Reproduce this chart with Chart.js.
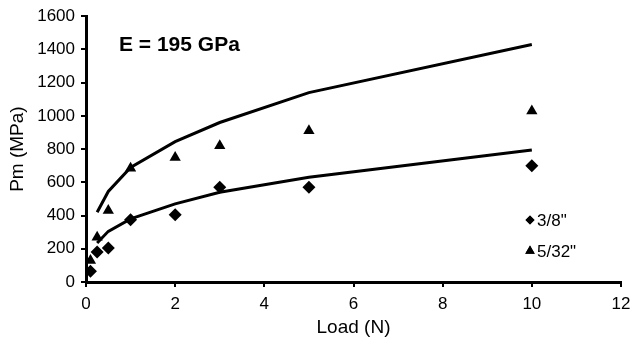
<!DOCTYPE html>
<html>
<head>
<meta charset="utf-8">
<script src="https://cdn.jsdelivr.net/npm/chart.js@4/dist/chart.umd.min.js"></script>
<style>
  html, body { margin: 0; padding: 0; background: #fff; }
  #wrap { width: 632px; height: 343px; }
</style>
</head>
<body>
<div id="wrap"><canvas id="grafico" width="632" height="343"></canvas></div>
<script>
// datos medidos (Load en N, Pm en MPa)
const cargaPuntos = [0.1, 0.25, 0.5, 1, 2, 3, 5, 10];
const pm38 = [65, 180, 205, 375, 405, 570, 570, 700];      // 3/8"
const pm532 = [130, 270, 430, 685, 750, 820, 910, 1030];   // 5/32"

// curvas del modelo
const cargaCurva = [0.25, 0.5, 1, 2, 3, 5, 10];
const curva38 = [235, 305, 380, 470, 540, 630, 795];
const curva532 = [420, 545, 690, 845, 960, 1140, 1430];

const etiquetas = ['3/8"', '5/32"'];
const anotacion = 'E = 195 GPa';

const fuente = '"Liberation Sans", Arial, sans-serif';

const toXY = (xs, ys) => xs.map((x, i) => ({ x: x, y: ys[i] }));

// leyenda y texto fijo dibujados a mano
const extras = {
    id: 'extras',
    afterDraw(chart) {
        const ctx = chart.ctx;
        ctx.save();
        ctx.fillStyle = '#000';
        ctx.font = 'bold 21px ' + fuente;
        ctx.textBaseline = 'alphabetic';
        ctx.fillText(anotacion, 119, 51);

        ctx.font = '17px ' + fuente;
        ctx.textBaseline = 'middle';
        const filas = [
            { estilo: 'rectRot', r: 4.5, y: 220 },
            { estilo: 'triangle', r: 5.5, y: 251 }
        ];
        filas.forEach((f, i) => {
            Chart.helpers.drawPoint(ctx, { pointStyle: f.estilo, radius: f.r, borderWidth: 0 }, 530, f.y);
            ctx.fill();
            ctx.fillText(etiquetas[i], 537, f.y + 1);
        });
        ctx.restore();
    }
};

const ctx = document.getElementById('grafico').getContext('2d');
new Chart(ctx, {
    type: 'scatter',
    data: {
        datasets: [
            {
                label: etiquetas[0],
                data: toXY(cargaPuntos, pm38),
                pointStyle: 'rectRot',
                pointRadius: 6.5,
                backgroundColor: '#000',
                borderColor: '#000',
                borderWidth: 0
            },
            {
                label: etiquetas[1],
                data: toXY(cargaPuntos, pm532),
                pointStyle: 'triangle',
                pointRadius: 6.5,
                backgroundColor: '#000',
                borderColor: '#000',
                borderWidth: 0
            },
            {
                label: 'modelo 3/8',
                type: 'line',
                data: toXY(cargaCurva, curva38),
                borderColor: '#000',
                borderWidth: 3,
                pointRadius: 0,
                tension: 0,
                fill: false
            },
            {
                label: 'modelo 5/32',
                type: 'line',
                data: toXY(cargaCurva, curva532),
                borderColor: '#000',
                borderWidth: 3,
                pointRadius: 0,
                tension: 0,
                fill: false
            }
        ]
    },
    options: {
        responsive: false,
        animation: false,
        layout: { padding: { left: 0, top: 15, right: 11, bottom: 0 } },
        plugins: {
            legend: { display: false },
            tooltip: { enabled: false }
        },
        scales: {
            x: {
                type: 'linear',
                min: 0,
                max: 12,
                ticks: { stepSize: 2, color: '#000', font: { family: fuente, size: 17 }, padding: 7, callback: v => String(v) },
                grid: { drawOnChartArea: false, drawTicks: true, tickLength: 5, color: '#000', lineWidth: 2 },
                border: { display: true, color: '#000', width: 3 },
                title: { display: true, text: 'Load (N)', color: '#000', font: { family: fuente, size: 19 }, padding: { top: 6 } },
                afterFit(scale) {
                    scale.height = 61;
                    scale.paddingRight = 0; // como el original, el "12" queda cortado en el borde
                }
            },
            y: {
                min: 0,
                max: 1600,
                ticks: { stepSize: 200, color: '#000', font: { family: fuente, size: 17 }, padding: 6, callback: v => String(v) },
                grid: { drawOnChartArea: false, drawTicks: true, tickLength: 5, color: '#000', lineWidth: 2 },
                border: { display: true, color: '#000', width: 3 },
                title: { display: true, text: 'Pm (MPa)', color: '#000', font: { family: fuente, size: 19 }, padding: { top: 6, bottom: 2 } },
                afterFit(scale) { scale.width = 86; }
            }
        }
    },
    plugins: [extras]
});
</script>
</body>
</html>
